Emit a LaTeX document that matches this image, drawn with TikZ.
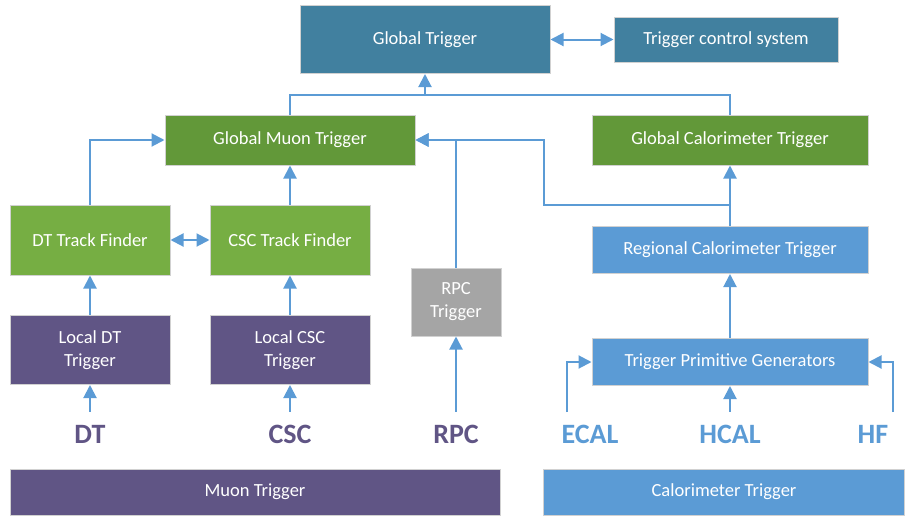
\documentclass[tikz,border=0pt]{standalone}
\usepackage{fontspec}
\setmainfont{Carlito}
\usetikzlibrary{arrows.meta}
\definecolor{gtTeal}{HTML}{41809F}
\definecolor{gDark}{HTML}{629839}
\definecolor{gLight}{HTML}{76AE43}
\definecolor{muPurple}{HTML}{605585}
\definecolor{caBlue}{HTML}{5B9BD5}
\definecolor{rpcGray}{HTML}{A5A5A5}
\newcommand{\boxFont}{\fontsize{18.5}{23}\selectfont}
\newcommand{\detFont}{\fontsize{28}{30}\selectfont\bfseries}

\tikzset{
  trigbox/.style={draw=black!18, line width=1pt, fill=#1, text=white, font=\boxFont, align=center, inner sep=0pt},
  detlabel/.style={font=\detFont, text=#1, text height=19pt, text depth=0pt, inner xsep=0pt, inner ysep=12pt, anchor=base},
  link/.style={draw=caBlue, line width=2pt},
  arr/.style={link, -{Triangle[length=13pt,width=13pt]}},
  darr/.style={link, {Triangle[length=13pt,width=13pt]}-{Triangle[length=13pt,width=13pt]}}
}

\begin{document}
\begin{tikzpicture}[x=1pt, y=-1pt]
   \useasboundingbox (0,0) rectangle (906,517);

   % top level
   \node[trigbox=gtTeal, minimum width=250, minimum height=68] (gt) at (425,39.5) {Global Trigger};
   \node[trigbox=gtTeal, minimum width=224, minimum height=45] (tcs) at (726,39.5) {Trigger control system};

   % global muon / calorimeter
   \node[trigbox=gDark, minimum width=250, minimum height=50] (gmt) at (290,140) {Global Muon Trigger};
   \node[trigbox=gDark, minimum width=276, minimum height=50] (gct) at (730,140) {Global Calorimeter Trigger};

   % track finders
   \node[trigbox=gLight, minimum width=160, minimum height=70] (dttf) at (90,240) {DT Track Finder};
   \node[trigbox=gLight, minimum width=160, minimum height=70] (csctf) at (290,240) {CSC Track Finder};

   % local triggers
   \node[trigbox=muPurple, minimum width=160, minimum height=69] (ldt) at (90,350) {Local DT\\Trigger};
   \node[trigbox=muPurple, minimum width=160, minimum height=69] (lcsc) at (290,350) {Local CSC\\Trigger};
   \node[trigbox=rpcGray, minimum width=90, minimum height=68] (rpct) at (456,302) {RPC\\Trigger};

   % calorimeter chain
   \node[trigbox=caBlue, minimum width=276, minimum height=47] (rct) at (730,250) {Regional Calorimeter Trigger};
   \node[trigbox=caBlue, minimum width=276, minimum height=47] (tpg) at (730,362) {Trigger Primitive Generators};

   % detector labels
   \node[detlabel=muPurple] (dt) at (90,443) {DT};
   \node[detlabel=muPurple] (csc) at (290,443) {CSC};
   \node[detlabel=muPurple] (rpc) at (456,443) {RPC};
   \node[detlabel=caBlue] (ecal) at (590,443) {ECAL};
   \node[detlabel=caBlue] (hcal) at (730,443) {HCAL};
   \node[detlabel=caBlue] (hf) at (873,443) {HF};

   % bottom bars
   \node[trigbox=muPurple, minimum width=490, minimum height=46] (mubar) at (255,492) {Muon Trigger};
   \node[trigbox=caBlue, minimum width=361, minimum height=46] (cabar) at (724,492) {Calorimeter Trigger};

   \coordinate (bus) at (425,95);
   \coordinate (rctjoin) at (730,205);
   \coordinate (calomid) at (544,140);
   \coordinate (ecalin) at (567,412);
   \coordinate (hfin) at (893,412);

   % connectors
   \draw[link] (gmt.north) |- (bus) -| (gct.north);
   \draw[arr] (bus) -- (gt.south);
   \draw[darr] (gt.east) -- (tcs.west);

   \draw[arr] (dttf.north) |- (gmt.west);
   \draw[arr] (csctf.north) -- (gmt.south);
   \draw[darr] (dttf.east) -- (csctf.west);
   \draw[arr] (rpct.north) |- (gmt.east);
   \draw[arr] (rct.north) -- (rctjoin) -| (calomid) -- (gmt.east);
   \draw[arr] (rctjoin) -- (gct.south);

   \draw[arr] (ldt.north) -- (dttf.south);
   \draw[arr] (lcsc.north) -- (csctf.south);
   \draw[arr] (tpg.north) -- (rct.south);

   \draw[arr] (dt.north) -- (ldt.south);
   \draw[arr] (csc.north) -- (lcsc.south);
   \draw[arr] (rpc.north) -- (rpct.south);
   \draw[arr] (hcal.north) -- (tpg.south);
   \draw[arr] (ecalin) |- (tpg.west);
   \draw[arr] (hfin) |- (tpg.east);
\end{tikzpicture}
\end{document}
